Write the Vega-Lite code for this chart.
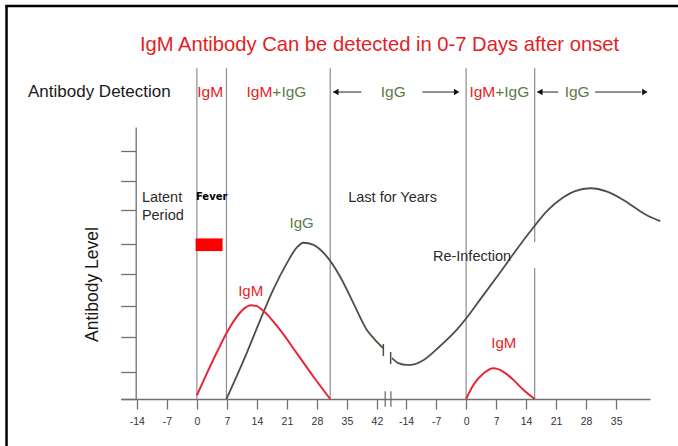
{
  "$schema": "https://vega.github.io/schema/vega-lite/v6.json",
  "width": 529,
  "height": 272,
  "autosize": {"type": "none"},
  "padding": {"left": 121, "top": 127, "right": 28, "bottom": 47},
  "background": "white",
  "config": {"view": {"stroke": null}, "font": "Liberation Sans"},
  "datasets": {
    "frame": [
      {"u": -44.7, "u2": 112.3, "y": 12.7, "y2": 12.7},
      {"u": -44.4, "u2": -44.4, "y": 12.7, "y2": -1.6}
    ],
    "vlines": [
      {"u": 0, "y": 0, "y2": 10.69},
      {"u": 6.9, "y": 0, "y2": 10.69},
      {"u": 31.1, "y": 0, "y2": 10.69},
      {"u": 62.8, "y": 0, "y2": 10.69},
      {"u": 78.8, "y": 0, "y2": 4.23},
      {"u": 78.8, "y": 5.07, "y2": 10.69}
    ],
    "fever": [{"u": -0.3, "u2": 6, "y": 4.78, "y2": 5.19}],
    "curves": [
      {"s": "IgM first", "ab": "IgM", "u": 0, "y": 0.12},
      {"s": "IgM first", "ab": "IgM", "u": 2.3, "y": 0.82},
      {"s": "IgM first", "ab": "IgM", "u": 4.7, "y": 1.52},
      {"s": "IgM first", "ab": "IgM", "u": 7, "y": 2.15},
      {"s": "IgM first", "ab": "IgM", "u": 9, "y": 2.6},
      {"s": "IgM first", "ab": "IgM", "u": 11, "y": 2.92},
      {"s": "IgM first", "ab": "IgM", "u": 12.6, "y": 3.03},
      {"s": "IgM first", "ab": "IgM", "u": 14, "y": 3.0},
      {"s": "IgM first", "ab": "IgM", "u": 15.5, "y": 2.85},
      {"s": "IgM first", "ab": "IgM", "u": 19.4, "y": 2.23},
      {"s": "IgM first", "ab": "IgM", "u": 23.3, "y": 1.48},
      {"s": "IgM first", "ab": "IgM", "u": 27.2, "y": 0.72},
      {"s": "IgM first", "ab": "IgM", "u": 31.1, "y": 0},
      {"s": "IgM re", "ab": "IgM", "u": 62.8, "y": 0},
      {"s": "IgM re", "ab": "IgM", "u": 64.5, "y": 0.45},
      {"s": "IgM re", "ab": "IgM", "u": 66.9, "y": 0.83},
      {"s": "IgM re", "ab": "IgM", "u": 69.2, "y": 0.99},
      {"s": "IgM re", "ab": "IgM", "u": 71.5, "y": 0.88},
      {"s": "IgM re", "ab": "IgM", "u": 73.9, "y": 0.61},
      {"s": "IgM re", "ab": "IgM", "u": 76.2, "y": 0.29},
      {"s": "IgM re", "ab": "IgM", "u": 78.8, "y": 0},
      {"s": "IgG first", "ab": "IgG", "u": 6.9, "y": 0},
      {"s": "IgG first", "ab": "IgG", "u": 11.67, "y": 1.5},
      {"s": "IgG first", "ab": "IgG", "u": 14.77, "y": 2.55},
      {"s": "IgG first", "ab": "IgG", "u": 17.87, "y": 3.55},
      {"s": "IgG first", "ab": "IgG", "u": 21, "y": 4.39},
      {"s": "IgG first", "ab": "IgG", "u": 23.33, "y": 4.9},
      {"s": "IgG first", "ab": "IgG", "u": 24.87, "y": 5.05},
      {"s": "IgG first", "ab": "IgG", "u": 27.2, "y": 4.98},
      {"s": "IgG first", "ab": "IgG", "u": 30.33, "y": 4.6},
      {"s": "IgG first", "ab": "IgG", "u": 33.43, "y": 3.95},
      {"s": "IgG first", "ab": "IgG", "u": 36.54, "y": 3.09},
      {"s": "IgG first", "ab": "IgG", "u": 39.66, "y": 2.23},
      {"s": "IgG first", "ab": "IgG", "u": 41.5, "y": 1.92},
      {"s": "IgG first", "ab": "IgG", "u": 43.5, "y": 1.64},
      {"s": "IgG years", "ab": "IgG", "u": 45.5, "y": 1.32},
      {"s": "IgG years", "ab": "IgG", "u": 47, "y": 1.16},
      {"s": "IgG years", "ab": "IgG", "u": 49, "y": 1.1},
      {"s": "IgG years", "ab": "IgG", "u": 50.9, "y": 1.13},
      {"s": "IgG years", "ab": "IgG", "u": 52.9, "y": 1.26},
      {"s": "IgG years", "ab": "IgG", "u": 56.8, "y": 1.72},
      {"s": "IgG years", "ab": "IgG", "u": 60.7, "y": 2.25},
      {"s": "IgG years", "ab": "IgG", "u": 62.8, "y": 2.6},
      {"s": "IgG years", "ab": "IgG", "u": 66.1, "y": 3.22},
      {"s": "IgG years", "ab": "IgG", "u": 70, "y": 3.95},
      {"s": "IgG years", "ab": "IgG", "u": 73.9, "y": 4.7},
      {"s": "IgG years", "ab": "IgG", "u": 77.8, "y": 5.42},
      {"s": "IgG years", "ab": "IgG", "u": 81.7, "y": 6.08},
      {"s": "IgG years", "ab": "IgG", "u": 85.5, "y": 6.52},
      {"s": "IgG years", "ab": "IgG", "u": 88.2, "y": 6.72},
      {"s": "IgG years", "ab": "IgG", "u": 91.8, "y": 6.81},
      {"s": "IgG years", "ab": "IgG", "u": 95.7, "y": 6.7},
      {"s": "IgG years", "ab": "IgG", "u": 99.5, "y": 6.43},
      {"s": "IgG years", "ab": "IgG", "u": 103.4, "y": 6.07},
      {"s": "IgG years", "ab": "IgG", "u": 105.8, "y": 5.88},
      {"s": "IgG years", "ab": "IgG", "u": 108.1, "y": 5.75}
    ],
    "curveBreaks": [
      {"u": 43.5, "y": 1.39, "y2": 1.78},
      {"u": 45.2, "y": 1.13, "y2": 1.52}
    ],
    "axisBreaks": [
      {"u": 43.94, "y": -0.25, "y2": 0.25},
      {"u": 45.27, "y": -0.25, "y2": 0.25}
    ],
    "arrowLines": [
      {"u": 31.8, "u2": 38.4, "y": 9.92},
      {"u": 52.6, "u2": 60.3, "y": 9.92},
      {"u": 79.4, "u2": 84.3, "y": 9.92},
      {"u": 92.9, "u2": 103.7, "y": 9.92}
    ],
    "arrowLeft": [{"u": 32.4, "y": 9.92}, {"u": 80.0, "y": 9.92}],
    "arrowRight": [{"u": 60.6, "y": 9.92}, {"u": 104.5, "y": 9.92}],
    "title": [{"u": 42.6, "y": 11.44, "t": "IgM Antibody Can be detected in 0-7 Days after onset"}],
    "headerBlack": [{"u": -39.4, "y": 9.92, "t": "Antibody Detection"}],
    "headerRedCenter": [{"u": 3.1, "y": 9.92, "t": "IgM"}],
    "headerRedRight": [{"u": 17.6, "y": 9.92, "t": "IgM"}, {"u": 69.6, "y": 9.92, "t": "IgM"}],
    "headerGreenLeft": [{"u": 17.6, "y": 9.92, "t": "+IgG"}, {"u": 69.6, "y": 9.92, "t": "+IgG"}],
    "headerGreenCenter": [{"u": 45.8, "y": 9.92, "t": "IgG"}, {"u": 88.7, "y": 9.92, "t": "IgG"}],
    "notes": [
      {"u": -12.83, "y": 6.36, "t": "Latent"},
      {"u": -12.83, "y": 5.8, "t": "Period"},
      {"u": 35.3, "y": 6.36, "t": "Last for Years"},
      {"u": 55.06, "y": 4.46, "t": "Re-Infection"}
    ],
    "redLabels": [{"u": 12.55, "y": 3.34, "t": "IgM"}, {"u": 71.6, "y": 1.66, "t": "IgM"}],
    "greenLabels": [{"u": 24.45, "y": 5.51, "t": "IgG"}],
    "feverLabel": [{"u": 3.45, "y": 6.53, "t": "Fever"}]
  },
  "encoding": {
    "x": {
      "field": "u",
      "type": "quantitative",
      "scale": {"domain": [-17.7, 105.7], "nice": false, "zero": false},
      "axis": {
        "values": [-14, -7, 0, 7, 14, 21, 28, 35, 42, 48.8, 55.8, 62.8, 69.8, 76.8, 83.8, 90.8, 97.8],
        "labelExpr": "datum.value > 45 ? '' + round(datum.value - 62.8) : '' + datum.value",
        "title": null,
        "grid": false,
        "tickSize": 10,
        "tickColor": "#707070",
        "tickWidth": 1.3,
        "domainColor": "#707070",
        "domainWidth": 1.3,
        "labelFontSize": 10.5,
        "labelColor": "#333333",
        "labelPadding": 7,
        "labelFlush": false,
        "labelOverlap": false
      }
    },
    "y": {
      "field": "y",
      "type": "quantitative",
      "scale": {"domain": [0, 8.79], "nice": false, "zero": false},
      "axis": {
        "values": [0, 0.87, 2, 3.02, 4.05, 5, 6.12, 7.06, 8],
        "labels": false,
        "grid": false,
        "tickSize": 15,
        "tickColor": "#707070",
        "tickWidth": 1.3,
        "domainColor": "#707070",
        "domainWidth": 1.3,
        "offset": -14.7,
        "title": "Antibody Level",
        "titleFontSize": 17.5,
        "titleFontWeight": "normal",
        "titleColor": "#1a1a1a",
        "titleX": -38,
        "titleY": 157,
        "titleAngle": -90,
        "titleAlign": "center",
        "titleBaseline": "alphabetic"
      }
    }
  },
  "layer": [
    {"data": {"name": "frame"}, "mark": {"type": "rule", "color": "#000000", "strokeWidth": 2.5}, "encoding": {"x2": {"field": "u2"}, "y2": {"field": "y2"}}},
    {"data": {"name": "vlines"}, "mark": {"type": "rule", "color": "#8c8c8c", "strokeWidth": 1.2}, "encoding": {"y2": {"field": "y2"}}},
    {"data": {"name": "fever"}, "mark": {"type": "rect", "color": "#ff0000"}, "encoding": {"x2": {"field": "u2"}, "y2": {"field": "y2"}}},
    {"data": {"name": "curves"}, "transform": [{"filter": "datum.ab == 'IgG'"}], "mark": {"type": "line", "color": "#4a5244", "strokeWidth": 1.8, "interpolate": "monotone"}, "encoding": {"detail": {"field": "s"}}},
    {"data": {"name": "curves"}, "transform": [{"filter": "datum.ab == 'IgM'"}], "mark": {"type": "line", "color": "#e8263a", "strokeWidth": 2, "interpolate": "monotone"}, "encoding": {"detail": {"field": "s"}}},
    {"data": {"name": "curveBreaks"}, "mark": {"type": "rule", "color": "#4a5244", "strokeWidth": 1.5}, "encoding": {"y2": {"field": "y2"}}},
    {"data": {"name": "axisBreaks"}, "mark": {"type": "rule", "color": "#707070", "strokeWidth": 1.3}, "encoding": {"y2": {"field": "y2"}}},
    {"data": {"name": "arrowLines"}, "mark": {"type": "rule", "color": "#222222", "strokeWidth": 1}, "encoding": {"x2": {"field": "u2"}}},
    {"data": {"name": "arrowLeft"}, "mark": {"type": "point", "shape": "triangle-left", "filled": true, "color": "#111111", "size": 40, "opacity": 1}},
    {"data": {"name": "arrowRight"}, "mark": {"type": "point", "shape": "triangle-right", "filled": true, "color": "#111111", "size": 40, "opacity": 1}},
    {"data": {"name": "title"}, "mark": {"type": "text", "color": "#e41e26", "fontSize": 20.2, "align": "center", "baseline": "middle"}, "encoding": {"text": {"field": "t"}}},
    {"data": {"name": "headerBlack"}, "mark": {"type": "text", "color": "#1a1a1a", "fontSize": 17, "align": "left", "baseline": "middle"}, "encoding": {"text": {"field": "t"}}},
    {"data": {"name": "headerRedCenter"}, "mark": {"type": "text", "color": "#e41e26", "fontSize": 15.5, "align": "center", "baseline": "middle"}, "encoding": {"text": {"field": "t"}}},
    {"data": {"name": "headerRedRight"}, "mark": {"type": "text", "color": "#e41e26", "fontSize": 15.5, "align": "right", "baseline": "middle"}, "encoding": {"text": {"field": "t"}}},
    {"data": {"name": "headerGreenLeft"}, "mark": {"type": "text", "color": "#5d7a4a", "fontSize": 15.5, "align": "left", "baseline": "middle"}, "encoding": {"text": {"field": "t"}}},
    {"data": {"name": "headerGreenCenter"}, "mark": {"type": "text", "color": "#5d7a4a", "fontSize": 15.5, "align": "center", "baseline": "middle"}, "encoding": {"text": {"field": "t"}}},
    {"data": {"name": "notes"}, "mark": {"type": "text", "color": "#2b2b2b", "fontSize": 14.5, "align": "left", "baseline": "alphabetic"}, "encoding": {"text": {"field": "t"}}},
    {"data": {"name": "redLabels"}, "mark": {"type": "text", "color": "#e41e26", "fontSize": 15, "align": "center", "baseline": "alphabetic"}, "encoding": {"text": {"field": "t"}}},
    {"data": {"name": "greenLabels"}, "mark": {"type": "text", "color": "#5d7a4a", "fontSize": 15, "align": "center", "baseline": "alphabetic"}, "encoding": {"text": {"field": "t"}}},
    {"data": {"name": "feverLabel"}, "mark": {"type": "text", "color": "#000000", "font": "DejaVu Sans", "fontWeight": "bold", "fontSize": 10, "align": "center", "baseline": "middle"}, "encoding": {"text": {"field": "t"}}}
  ]
}
